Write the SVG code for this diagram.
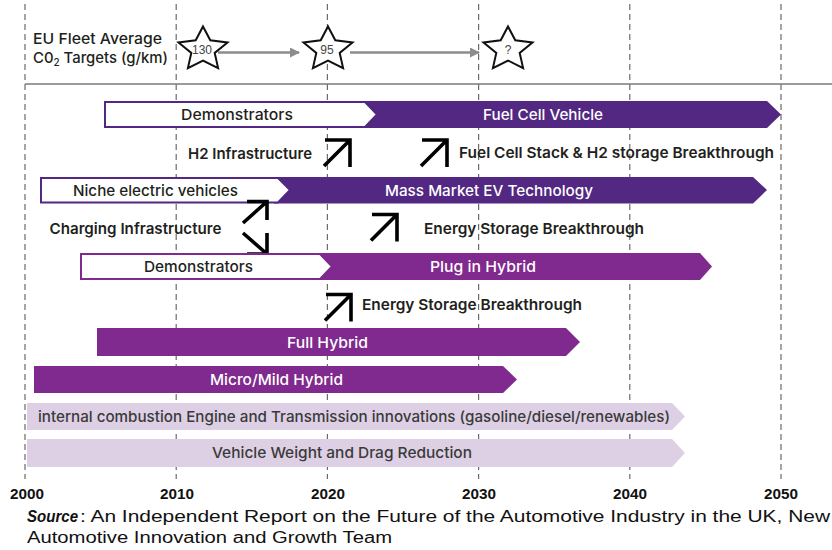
<svg xmlns="http://www.w3.org/2000/svg" width="832" height="550" viewBox="0 0 832 550">
  <style>
    .grid { stroke: #6b6b6b; stroke-width: 1.2; stroke-dasharray: 6 4; fill: none; }
    .axis { stroke: #7a7a7a; stroke-width: 1.6; }
    .lbl { font-family: Inter, "Liberation Sans", sans-serif; font-weight: 500; font-size: 15px; fill: #231f20; }
    .dk { font-weight: 600; }
    .wt { font-family: Inter, "Liberation Sans", sans-serif; font-weight: 500; font-size: 15px; fill: #ffffff; }
    .lt { font-family: Inter, "Liberation Sans", sans-serif; font-weight: 500; font-size: 15px; fill: #3a3a3a; }
    .yr { font-family: "Liberation Sans", sans-serif; font-weight: bold; font-size: 14px; fill: #111; text-anchor: middle; }
    .src { font-family: "Liberation Sans", sans-serif; font-size: 16px; fill: #111; }
    .star { fill: #ffffff; stroke: #111; stroke-width: 2; stroke-linejoin: miter; }
    .stxt { font-family: "Liberation Sans", sans-serif; font-size: 12px; fill: #444; text-anchor: middle; }
    .dark { fill: #522882; }
    .mag { fill: #80298e; }
    .light { fill: #ddd0e5; }
    .wbox-d { fill: #ffffff; stroke: #522882; stroke-width: 2; }
    .wbox-m { fill: #ffffff; stroke: #80298e; stroke-width: 2; }
    .ico { fill: none; stroke: #000; stroke-width: 3.6; stroke-linejoin: miter; }
    .garrow { stroke: #8c8c8c; stroke-width: 2.6; }
  </style>
  <defs>
    <polygon id="starShape" points="0,-23 7.3,-9.2 24.5,-7.1 11.7,3.4 15.1,18.6 0,11 -15.1,18.6 -11.7,3.4 -24.5,-7.1 -7.3,-9.2"/>
    <path id="upRight" d="M1,27 L27,1 M2,1 H27 V28"/>
    <marker id="gHead" markerWidth="10" markerHeight="10" refX="9" refY="5" orient="auto" markerUnits="userSpaceOnUse">
      <path d="M0,0 L10,5 L0,10 Z" fill="#8c8c8c"/>
    </marker>
  </defs>

  <rect width="832" height="550" fill="#ffffff"/>

  <!-- decade gridlines -->
  <g id="gridlines">
    <line class="grid" x1="25" y1="4" x2="25" y2="479"/>
    <line class="grid" x1="176.2" y1="4" x2="176.2" y2="479"/>
    <line class="grid" x1="327.4" y1="4" x2="327.4" y2="479"/>
    <line class="grid" x1="478.6" y1="4" x2="478.6" y2="479"/>
    <line class="grid" x1="629.8" y1="4" x2="629.8" y2="479"/>
    <line class="grid" x1="781" y1="4" x2="781" y2="479"/>
    <line class="axis" x1="25" y1="84" x2="832" y2="84"/>
  </g>

  <!-- CO2 target header -->
  <g id="co2-title">
    <text class="lbl" x="33" y="44" textLength="129" lengthAdjust="spacingAndGlyphs">EU Fleet Average</text>
    <text class="lbl" x="33" y="63" textLength="135" lengthAdjust="spacingAndGlyphs">C0<tspan font-size="10" dy="3">2</tspan><tspan dy="-3"> Targets (g/km)</tspan></text>
  </g>

  <g id="connectors">
    <line class="garrow" x1="218" y1="52.5" x2="299" y2="52.5" marker-end="url(#gHead)"/>
    <line class="garrow" x1="350" y1="52.5" x2="479" y2="52.5" marker-end="url(#gHead)"/>
  </g>

  <g id="target-130">
    <use href="#starShape" class="star" x="203" y="49.5"/>
    <text class="stxt" x="202" y="54">130</text>
  </g>
  <g id="target-95">
    <use href="#starShape" class="star" x="328" y="49.5"/>
    <text class="stxt" x="327" y="54">95</text>
  </g>
  <g id="target-unknown">
    <use href="#starShape" class="star" x="508" y="49.5"/>
    <text class="stxt" x="508" y="54">?</text>
  </g>

  <!-- Fuel cell row -->
  <g id="fuel-cell">
    <polygon class="dark" points="360,101 767,101 781,114.5 767,128 360,128"/>
    <polygon class="wbox-d" points="105,102 365,102 377,114.5 365,127 105,127"/>
    <text class="lbl" x="181" y="119.5" textLength="112" lengthAdjust="spacingAndGlyphs">Demonstrators</text>
    <text class="wt" x="483" y="119.5" textLength="120" lengthAdjust="spacingAndGlyphs">Fuel Cell Vehicle</text>
  </g>

  <g id="h2-infrastructure">
    <text class="lbl dk" x="188" y="158.5" textLength="124" lengthAdjust="spacingAndGlyphs">H2 Infrastructure</text>
    <use href="#upRight" class="ico" x="323" y="139"/>
  </g>
  <g id="fuel-cell-breakthrough">
    <use href="#upRight" class="ico" x="420" y="139"/>
    <text class="lbl dk" x="459" y="157.5" textLength="315" lengthAdjust="spacingAndGlyphs">Fuel Cell Stack &amp; H2 storage Breakthrough</text>
  </g>

  <!-- Electric vehicle row -->
  <g id="electric-vehicles">
    <polygon class="dark" points="274,177 753,177 767,190 753,203.5 274,203.5"/>
    <polygon class="wbox-d" points="41,178 278,178 290,190 278,202.5 41,202.5"/>
    <text class="lbl" x="73" y="195.5" textLength="165" lengthAdjust="spacingAndGlyphs">Niche electric vehicles</text>
    <text class="wt" x="385" y="195.5" textLength="208" lengthAdjust="spacingAndGlyphs">Mass Market EV Technology</text>
  </g>

  <g id="charging-infrastructure">
    <text class="lbl dk" x="49.5" y="234" textLength="172" lengthAdjust="spacingAndGlyphs">Charging Infrastructure</text>
    <path class="ico" d="M243,223 L267,201.5 M247,201.5 H267 V220"/>
    <path class="ico" d="M243,233 L267,254 M267,233 V254 H247"/>
  </g>
  <g id="ev-storage-breakthrough">
    <use href="#upRight" class="ico" x="370" y="213.5"/>
    <text class="lbl dk" x="424" y="233.5" textLength="220" lengthAdjust="spacingAndGlyphs">Energy Storage Breakthrough</text>
  </g>

  <!-- Plug-in hybrid row -->
  <g id="plug-in-hybrid">
    <polygon class="mag" points="316,253 700,253 712,266.5 700,280 316,280"/>
    <polygon class="wbox-m" points="81,254 320,254 332,266.5 320,279 81,279"/>
    <text class="lbl" x="144" y="272" textLength="109" lengthAdjust="spacingAndGlyphs">Demonstrators</text>
    <text class="wt" x="430" y="272" textLength="106" lengthAdjust="spacingAndGlyphs">Plug in Hybrid</text>
  </g>

  <g id="phev-storage-breakthrough">
    <use href="#upRight" class="ico" x="324" y="293.5"/>
    <text class="lbl dk" x="362" y="309.5" textLength="220" lengthAdjust="spacingAndGlyphs">Energy Storage Breakthrough</text>
  </g>

  <g id="full-hybrid">
    <polygon class="mag" points="97,328 566,328 580,342 566,356 97,356"/>
    <text class="wt" x="287" y="347.5" textLength="81" lengthAdjust="spacingAndGlyphs">Full Hybrid</text>
  </g>

  <g id="micro-mild-hybrid">
    <polygon class="mag" points="34,366 503,366 517,379.5 503,393 34,393"/>
    <text class="wt" x="210" y="385" textLength="133" lengthAdjust="spacingAndGlyphs">Micro/Mild Hybrid</text>
  </g>

  <g id="ice-innovations">
    <polygon class="light" points="27,403 672,403 685,416.5 672,430 27,430"/>
    <text class="lt" x="38" y="421.5" textLength="632" lengthAdjust="spacingAndGlyphs">internal combustion Engine and Transmission innovations (gasoline/diesel/renewables)</text>
  </g>

  <g id="weight-drag">
    <polygon class="light" points="27,439 672,439 685,453 672,467 27,467"/>
    <text class="lt" x="212" y="458" textLength="260" lengthAdjust="spacingAndGlyphs">Vehicle Weight and Drag Reduction</text>
  </g>

  <!-- year axis -->
  <g id="years">
    <text class="yr" x="27" y="499" textLength="34" lengthAdjust="spacingAndGlyphs">2000</text>
    <text class="yr" x="177" y="499" textLength="34" lengthAdjust="spacingAndGlyphs">2010</text>
    <text class="yr" x="328" y="499" textLength="34" lengthAdjust="spacingAndGlyphs">2020</text>
    <text class="yr" x="479" y="499" textLength="34" lengthAdjust="spacingAndGlyphs">2030</text>
    <text class="yr" x="630" y="499" textLength="34" lengthAdjust="spacingAndGlyphs">2040</text>
    <text class="yr" x="781" y="499" textLength="34" lengthAdjust="spacingAndGlyphs">2050</text>
  </g>

  <g id="source">
    <text class="src" x="27" y="522" font-weight="bold" font-style="italic" textLength="51" lengthAdjust="spacingAndGlyphs">Source</text>
    <text class="src" x="80" y="522" textLength="750" lengthAdjust="spacingAndGlyphs">: An Independent Report on the Future of the Automotive Industry in the UK, New</text>
    <text class="src" x="27" y="543" textLength="365" lengthAdjust="spacingAndGlyphs">Automotive Innovation and Growth Team</text>
  </g>
</svg>
